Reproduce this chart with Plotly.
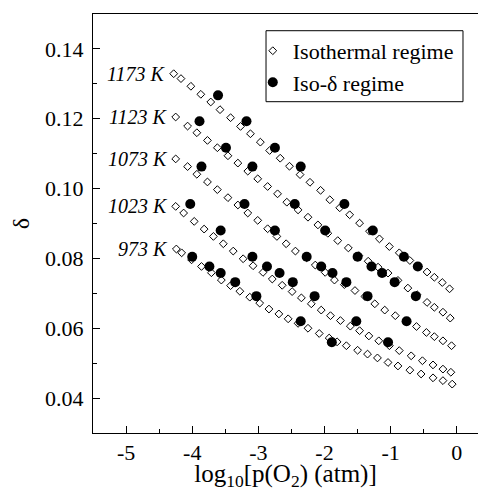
import plotly.graph_objects as go

# ---------------- data ----------------
temperatures = ["1173 K", "1123 K", "1073 K", "1023 K", "973 K"]

x_1173 = [-4.28, -4.17, -4.02, -3.87, -3.72, -3.58, -3.42, -3.27, -3.12, -2.97,
          -2.83, -2.67, -2.53, -2.37, -2.22, -2.06, -1.92, -1.77, -1.62, -1.47,
          -1.32, -1.17, -1.02, -0.87, -0.71, -0.58, -0.45, -0.34, -0.22, -0.11]
y_1173 = [0.1329, 0.1315, 0.1293, 0.1270, 0.1248, 0.1226, 0.1203, 0.1178, 0.1157, 0.1133,
          0.1109, 0.1087, 0.1064, 0.1040, 0.1018, 0.0995, 0.0968, 0.0945, 0.0925, 0.0901,
          0.0878, 0.0856, 0.0834, 0.0816, 0.0794, 0.0777, 0.0761, 0.0746, 0.0731, 0.0713]

x_1123 = [-4.25, -4.07, -3.93, -3.77, -3.62, -3.46, -3.31, -3.16, -3.01, -2.86,
          -2.71, -2.57, -2.40, -2.25, -2.10, -1.95, -1.80, -1.64, -1.48, -1.34,
          -1.19, -1.04, -0.89, -0.74, -0.60, -0.45, -0.34, -0.21, -0.10]
y_1123 = [0.1205, 0.1179, 0.1160, 0.1138, 0.1117, 0.1094, 0.1073, 0.1050, 0.1028, 0.1006,
          0.0985, 0.0961, 0.0939, 0.0918, 0.0896, 0.0872, 0.0851, 0.0830, 0.0808, 0.0792,
          0.0775, 0.0758, 0.0737, 0.0715, 0.0696, 0.0674, 0.0660, 0.0646, 0.0629]

x_1073 = [-4.25, -4.07, -3.93, -3.77, -3.62, -3.46, -3.31, -3.16, -3.01, -2.86,
          -2.72, -2.58, -2.44, -2.27, -2.14, -1.99, -1.85, -1.70, -1.54, -1.39,
          -1.24, -1.09, -0.93, -0.76, -0.61, -0.46, -0.34, -0.21, -0.08]
y_1073 = [0.1085, 0.1063, 0.1041, 0.1019, 0.0997, 0.0974, 0.0953, 0.0930, 0.0909, 0.0885,
          0.0863, 0.0842, 0.0821, 0.0802, 0.0781, 0.0760, 0.0738, 0.0725, 0.0708, 0.0691,
          0.0670, 0.0652, 0.0636, 0.0620, 0.0605, 0.0588, 0.0576, 0.0564, 0.0550]

x_1023 = [-4.25, -4.13, -3.97, -3.82, -3.68, -3.53, -3.38, -3.23, -3.08, -2.93,
          -2.79, -2.64, -2.49, -2.35, -2.20, -2.05, -1.91, -1.76, -1.61, -1.47,
          -1.33, -1.18, -1.02, -0.87, -0.69, -0.52, -0.36, -0.21, -0.09]
y_1023 = [0.0949, 0.0930, 0.0906, 0.0884, 0.0863, 0.0842, 0.0821, 0.0799, 0.0779, 0.0760,
          0.0741, 0.0723, 0.0705, 0.0687, 0.0670, 0.0652, 0.0636, 0.0622, 0.0606, 0.0593,
          0.0578, 0.0564, 0.0550, 0.0536, 0.0521, 0.0507, 0.0495, 0.0483, 0.0474]

x_973 = [-4.24, -4.16, -4.01, -3.86, -3.71, -3.56, -3.42, -3.28, -3.13, -2.98,
         -2.84, -2.69, -2.55, -2.40, -2.25, -2.08, -1.93, -1.81, -1.67, -1.50,
         -1.35, -1.20, -1.04, -0.89, -0.71, -0.54, -0.36, -0.21, -0.07]
y_973 = [0.0827, 0.0816, 0.0796, 0.0777, 0.0759, 0.0738, 0.0722, 0.0706, 0.0689, 0.0672,
         0.0655, 0.0641, 0.0627, 0.0614, 0.0600, 0.0585, 0.0572, 0.0561, 0.0550, 0.0537,
         0.0526, 0.0515, 0.0502, 0.0492, 0.0480, 0.0469, 0.0458, 0.0450, 0.0440]

iso_delta_x = [-3.61,
               -3.89, -3.18,
               -3.49, -2.75,
               -3.86, -3.09, -2.36,
               -4.03, -3.21, -2.45, -1.70,
               -3.57, -2.75, -1.99, -1.27,
               -4.00, -3.09, -2.27, -1.50, -0.80,
               -3.74, -2.87, -2.05, -1.29, -0.59,
               -3.57, -2.68, -1.88, -1.13,
               -3.35, -2.48, -1.67, -0.94,
               -3.03, -2.15, -1.35, -0.62,
               -2.36, -1.52, -0.76,
               -1.89, -1.04]
iso_delta_y = [0.1267,
               0.1193, 0.1193,
               0.1117, 0.1117,
               0.1063, 0.1063, 0.1063,
               0.0956, 0.0956, 0.0956, 0.0956,
               0.0880, 0.0880, 0.0880, 0.0880,
               0.0805, 0.0805, 0.0805, 0.0805, 0.0805,
               0.0777, 0.0777, 0.0777, 0.0777, 0.0777,
               0.0758, 0.0758, 0.0758, 0.0758,
               0.0732, 0.0732, 0.0732, 0.0732,
               0.0692, 0.0692, 0.0692, 0.0692,
               0.0620, 0.0620, 0.0620,
               0.0560, 0.0560]

x_tick_vals = [-5, -4, -3, -2, -1, 0]
x_tick_text = ["-5", "-4", "-3", "-2", "-1", "0"]
y_tick_vals = [0.04, 0.06, 0.08, 0.10, 0.12, 0.14]
y_tick_text = ["0.04", "0.06", "0.08", "0.10", "0.12", "0.14"]

legend_names = ["Isothermal regime", "Iso-δ regime"]

# ---------------- figure ----------------
FONT = "Liberation Serif"
series_x = [x_1173, x_1123, x_1073, x_1023, x_973]
series_y = [y_1173, y_1123, y_1073, y_1023, y_973]

fig = go.Figure()
for i, (xs, ys) in enumerate(zip(series_x, series_y)):
    fig.add_trace(go.Scatter(
        x=xs, y=ys, mode="markers", name=legend_names[0],
        legendgroup="iso", showlegend=(i == 0),
        marker=dict(symbol="diamond-open", size=6, color="black",
                    line=dict(width=1, color="black")),
    ))

fig.add_trace(go.Scatter(
    x=iso_delta_x, y=iso_delta_y, mode="markers", name=legend_names[1],
    legendgroup="isodelta",
    marker=dict(symbol="circle", size=10, color="black"),
))

annotations = []
for name, xs, ys in zip(temperatures, series_x, series_y):
    annotations.append(dict(
        x=xs[0] - 0.09, y=ys[0], xref="x", yref="y", text="<i>%s</i>" % name,
        showarrow=False, xanchor="right", yanchor="middle",
        font=dict(family=FONT, size=20, color="black"),
    ))

fig.update_layout(
    width=478, height=491,
    margin=dict(l=93, r=0, t=14, b=58),
    paper_bgcolor="white", plot_bgcolor="white",
    font=dict(family=FONT, size=22, color="black"),
    annotations=annotations,
    legend=dict(x=0.415, y=0.962, xanchor="left", yanchor="top",
                bgcolor="rgba(0,0,0,0)", borderwidth=0, tracegroupgap=0,
                font=dict(family=FONT, size=22, color="black"),
                itemwidth=30),
    shapes=[dict(type="rect", xref="paper", yref="paper",
                 x0=0.4494, x1=0.961, y0=0.7907, y1=0.9601,
                 line=dict(color="black", width=1), fillcolor="rgba(0,0,0,0)")],
)

fig.update_xaxes(
    range=[-5.5, 0.32], showline=True, linecolor="black", linewidth=1, mirror=True,
    showgrid=False, zeroline=False,
    tickmode="array", tickvals=x_tick_vals, ticktext=x_tick_text,
    ticks="inside", ticklen=7, tickwidth=1, tickcolor="black",
    tickfont=dict(family=FONT, size=22, color="black"), ticklabelstandoff=0,
    minor=dict(tickmode="linear", tick0=0, dtick=0.5, ticks="inside",
               ticklen=4, tickwidth=1, tickcolor="black", showgrid=False),
    title=dict(text="log<sub>10</sub>[p(O<sub>2</sub>) (atm)]",
               font=dict(family=FONT, size=25, color="black"), standoff=9),
)
fig.update_yaxes(
    range=[0.03, 0.15], showline=True, linecolor="black", linewidth=1, mirror=False,
    showgrid=False, zeroline=False,
    tickmode="array", tickvals=y_tick_vals, ticktext=y_tick_text,
    ticks="inside", ticklen=7, tickwidth=1, tickcolor="black",
    tickfont=dict(family=FONT, size=22, color="black"), ticklabelstandoff=4,
    minor=dict(tickmode="linear", tick0=0.03, dtick=0.01, ticks="inside",
               ticklen=4, tickwidth=1, tickcolor="black", showgrid=False),
    title=dict(text="δ", font=dict(family=FONT, size=24, color="black"), standoff=8),
)

fig.write_html("out.html")
